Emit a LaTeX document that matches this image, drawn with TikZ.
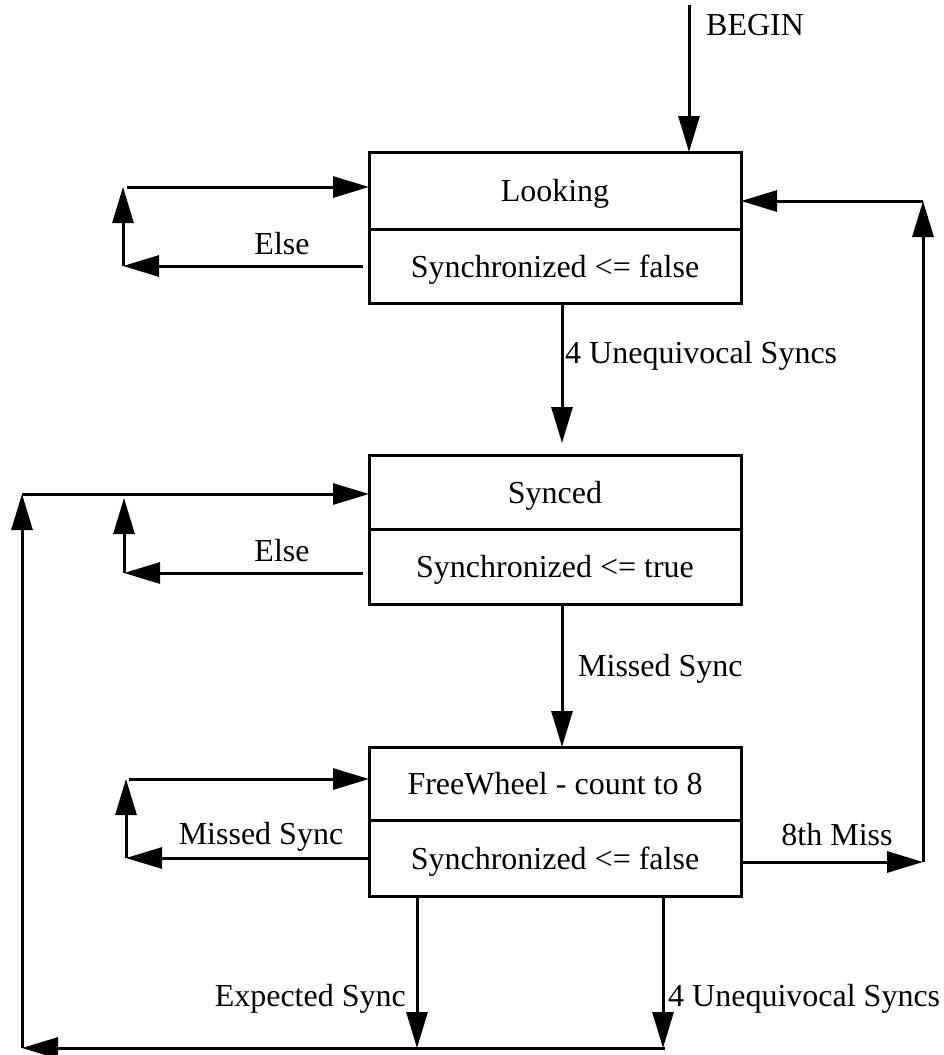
\documentclass[tikz,border=0pt]{standalone}
\usepackage{fontspec}
\setmainfont{Liberation Serif}
\usetikzlibrary{arrows.meta,calc}
\begin{document}
\begin{tikzpicture}[x=1pt,y=-1pt,
  every node/.style={font=\fontsize{32}{38}\selectfont, inner sep=0pt, text height=22pt, text depth=0pt},
  arr/.style={line width=3pt, -{Triangle[length=36pt,width=21pt]}},
  part/.style={draw, line width=3pt, outer sep=0pt, minimum width=372pt, anchor=north west}]
\useasboundingbox (0,0) rectangle (943,1055);

% Looking
\node[part, minimum height=77pt] (lookT) at (369,152) {Looking};
\node[part, minimum height=74pt] (lookB) at (lookT.south west) {Synchronized <= false};
% Synced
\node[part, minimum height=74pt] (synT) at (369,455) {Synced};
\node[part, minimum height=75pt] (synB) at (synT.south west) {Synchronized <= true};
% FreeWheel
\node[part, minimum height=73pt] (fwT) at (369,747) {FreeWheel - count to 8};
\node[part, minimum height=76pt] (fwB) at (fwT.south west) {Synchronized <= false};

% BEGIN
\coordinate (beginTop) at (689,5);
\draw[arr] (beginTop) -- (beginTop |- lookT.north);
\node[anchor=west] (beginLbl) at (706,24) {BEGIN};

% Looking -> Synced
\draw[arr, shorten >=12pt] ([xshift=7pt]lookB.south) -- ([xshift=7pt]synT.north);
\node[anchor=west] (lblA) at (565,352) {4 Unequivocal Syncs};

% Synced -> FreeWheel
\draw[arr] ([xshift=7pt]synB.south) -- ([xshift=7pt]fwT.north);
\node[anchor=west] (lblB) at (578,665) {Missed Sync};

% Looking self loop
\coordinate (lA) at (123,266);
\coordinate (lB) at (123,187);
\draw[arr] ($(lookB.west |- lA)+(-6,0)$) -- (lA);
\draw[arr] (lA) -- (lB);
\draw[arr] ($(lB)+(4,0)$) -- (lB -| lookT.west);
\node (lblE1) at (282,243) {Else};

% Synced self loop
\coordinate (sA) at (124,573);
\coordinate (sB) at (124,498);
\draw[arr] ($(synB.west |- sA)+(-6,0)$) -- (sA);
\draw[arr] (sA) -- (sB);
\node (lblE2) at (282,550) {Else};

% Outer return to Synced
\coordinate (oA) at (22,1048);
\coordinate (oB) at (22,494);
\coordinate (bR) at (665,1048);
\draw[arr] (bR) -- (oA);
\draw[arr] (oA) -- (oB);
\draw[arr] (oB) -- (oB -| synT.west);

% FreeWheel exits down
\coordinate (eB) at (417,1048);
\draw[arr] (fwB.south -| eB) -- (eB);
\node[anchor=east] (lblX) at (406,995) {Expected Sync};
\coordinate (uB) at (663,1048);
\draw[arr] (fwB.south -| uB) -- (uB);
\node[anchor=west] (lblU) at (668,995) {4 Unequivocal Syncs};

% FreeWheel self loop
\coordinate (fA) at (126,858);
\coordinate (fB) at (126,779);
\draw[arr] (fwB.west |- fA) -- (fA);
\draw[arr] (fA) -- (fB);
\draw[arr] ($(fB)+(3,0)$) -- (fB -| fwT.west);
\node (lblM) at (261,833) {Missed Sync};

% 8th Miss back to Looking
\coordinate (mA) at (923,862);
\coordinate (mB) at (923,201);
\draw[arr] (fwB.east |- mA) -- (mA);
\draw[arr] (mA) -- (mB);
\draw[arr] (mB) -- (mB -| lookT.east);
\node (lbl8) at (837,834) {8th Miss};
\end{tikzpicture}
\end{document}
